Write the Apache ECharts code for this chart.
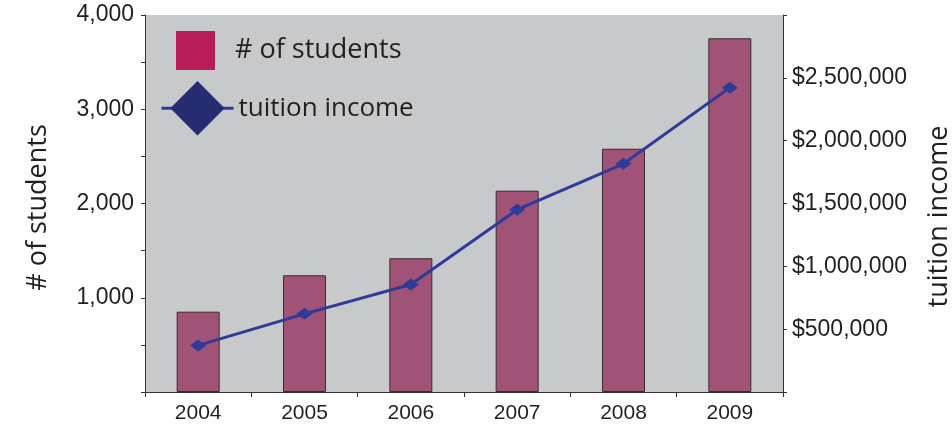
<!DOCTYPE html>
<html>
<head>
<meta charset="utf-8">
<script src="https://cdn.jsdelivr.net/npm/echarts@6/dist/echarts.min.js"></script>
<style>
html,body{margin:0;padding:0;background:#fff;}
#c{width:952px;height:424px;}
</style>
</head>
<body>
<div id="c"></div>
<script>
var years = ['2004', '2005', '2006', '2007', '2008', '2009'];
var students = [852, 1238, 1419, 2136, 2581, 3753];
var tuition = [371000, 622000, 856000, 1451000, 1816000, 2422000];
var leftTicks = [0, 1000, 2000, 3000, 4000];
var rightTicks = [0, 500000, 1000000, 1500000, 2000000, 2500000, 3000000];

var chart = echarts.init(document.getElementById('c'));
var textCol = '#231F20';
var titleFont = '"Open Sans", sans-serif';
var numFont = '"Liberation Sans", Arial, sans-serif';

function addCommas(v) {
  return String(v).replace(/\B(?=(\d{3})+(?!\d))/g, ',');
}
function fmtMoney(v) {
  if (v <= 0 || v >= 3000000) return '';
  return '$' + addCommas(v);
}
function fmtNum(v) {
  if (v <= 0) return '';
  return addCommas(v);
}

chart.setOption({
  animation: false,
  backgroundColor: '#ffffff',
  grid: {
    left: 145, right: 169, top: 15, bottom: 32,
    outerBoundsMode: 'none', containLabel: false,
    show: true, backgroundColor: '#C8C9CB', borderWidth: 0
  },
  legend: [
    {
      data: [{ name: '# of students', icon: 'rect', itemStyle: { color: '#B81D59', borderWidth: 0 } }],
      left: 176, top: 31, padding: 0, itemWidth: 39, itemHeight: 39,
      textStyle: { fontFamily: titleFont, fontSize: 27, color: textCol, padding: [0, 0, 0, 15] }
    },
    {
      data: [{ name: 'tuition income', itemStyle: { color: '#262C72' }, lineStyle: { color: '#2F3A99', width: 3 } }],
      left: 160, top: 81, padding: 0, itemWidth: 72, itemHeight: 68,
      textStyle: { fontFamily: titleFont, fontSize: 26, color: textCol, padding: [0, 0, 0, 0] }
    }
  ],
  xAxis: {
    type: 'category',
    data: years,
    axisLine: { lineStyle: { color: '#333', width: 1 } },
    axisTick: { show: true, length: 5, lineStyle: { color: '#333' } },
    axisLabel: { color: textCol, fontFamily: numFont, fontSize: 21, margin: 11 }
  },
  yAxis: [
    {
      type: 'value', min: 0, max: 4000, interval: 1000,
      name: '# of students', nameLocation: 'middle', nameRotate: 90, nameGap: 93,
      nameTextStyle: { fontFamily: titleFont, fontSize: 27, color: textCol, padding: [0, 8, 0, 0] },
      axisLine: { show: true, lineStyle: { color: '#333' } },
      axisTick: { show: true, length: 4, lineStyle: { color: '#333' } },
      minorTick: { show: true, splitNumber: 2, length: 4, lineStyle: { color: '#333' } },
      splitLine: { show: false },
      axisLabel: { color: textCol, fontFamily: numFont, fontSize: 23, margin: 11, formatter: fmtNum }
    },
    {
      type: 'value', min: 0, max: 3000000, interval: 500000, position: 'right',
      name: 'tuition income', nameLocation: 'middle', nameRotate: 90, nameGap: 143,
      nameTextStyle: { fontFamily: titleFont, fontSize: 27, color: textCol, padding: [0, 26, 0, 0] },
      axisLine: { show: true, lineStyle: { color: '#333' } },
      axisTick: { show: true, length: 4, lineStyle: { color: '#333' } },
      splitLine: { show: false },
      axisLabel: { color: textCol, fontFamily: numFont, fontSize: 23, margin: 9, formatter: fmtMoney }
    }
  ],
  series: [
    {
      name: '# of students', type: 'bar', yAxisIndex: 0,
      data: students, barWidth: 43,
      itemStyle: { color: '#A15277', borderColor: '#3A2A30', borderWidth: 1 }
    },
    {
      name: 'tuition income', type: 'line', yAxisIndex: 1,
      data: tuition, symbol: 'diamond', symbolSize: [16, 12],
      lineStyle: { color: '#2F3A99', width: 3 },
      itemStyle: { color: '#2F3A99' }
    }
  ]
});
</script>
</body>
</html>
